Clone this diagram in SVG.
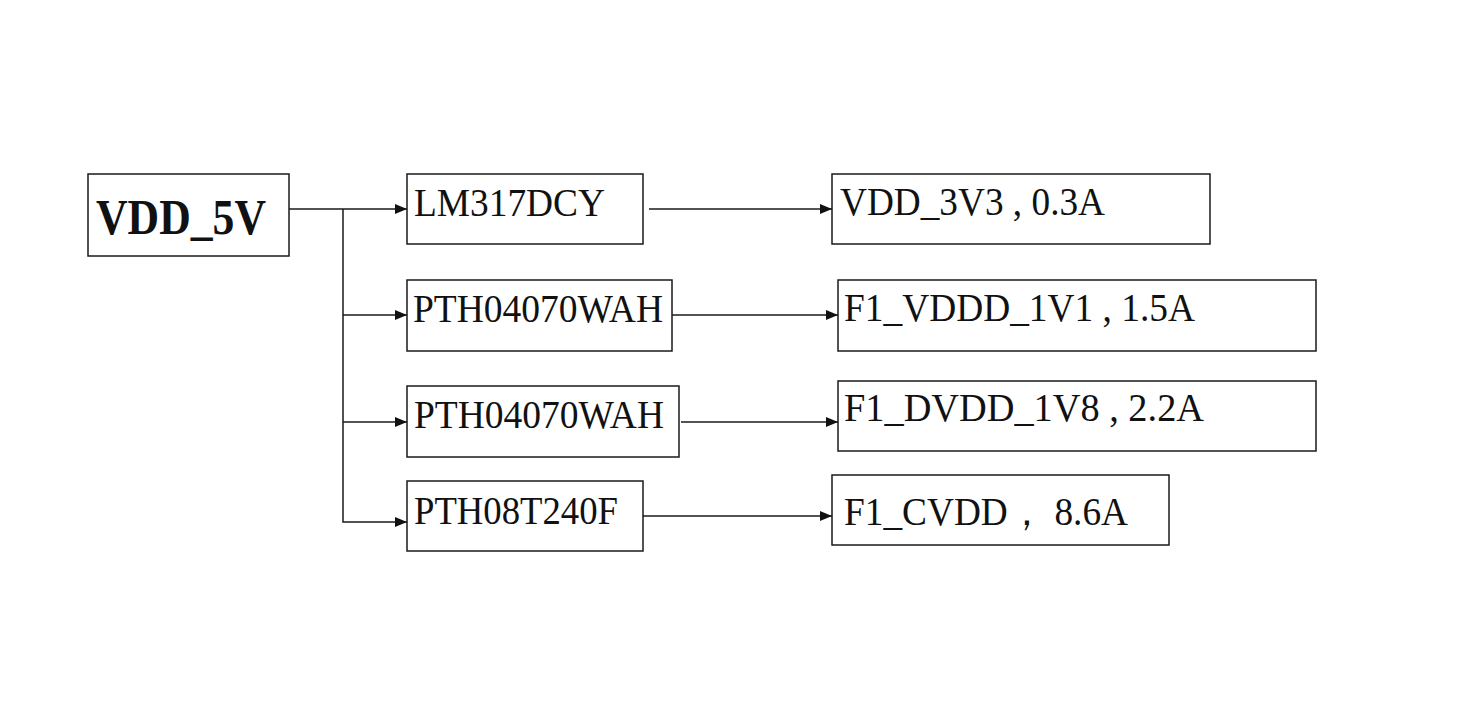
<svg xmlns="http://www.w3.org/2000/svg" width="1459" height="711" viewBox="0 0 1459 711">
<style>
.box{fill:#fff;stroke:#1a1a1a;stroke-width:1.5}
.t{font-family:"Liberation Serif","Times New Roman",serif;font-size:40px;fill:#111}
.b{font-family:"Liberation Serif","Times New Roman",serif;font-size:50px;font-weight:bold;fill:#111}
.c{fill:none;stroke:#1a1a1a;stroke-width:1.5}
</style>
<defs>
<marker id="ah" viewBox="0 0 12 10" refX="12" refY="5" markerWidth="12" markerHeight="10" markerUnits="userSpaceOnUse" orient="auto">
<path d="M0,0 L12,5 L0,10 Z" fill="#111"/>
</marker>
</defs>
<rect width="1459" height="711" fill="#fff"/>
<g id="connectors">
<path class="c" d="M289,209 H407" marker-end="url(#ah)"/>
<path class="c" d="M343,209 V522 H407" marker-end="url(#ah)"/>
<path class="c" d="M343,315 H407" marker-end="url(#ah)"/>
<path class="c" d="M343,422 H407" marker-end="url(#ah)"/>
<path class="c" d="M649,209 H832" marker-end="url(#ah)"/>
<path class="c" d="M672,315 H838" marker-end="url(#ah)"/>
<path class="c" d="M681,422 H838" marker-end="url(#ah)"/>
<path class="c" d="M643,516 H832" marker-end="url(#ah)"/>
</g>
<g id="vdd5v">
<rect class="box" x="88" y="174" width="201" height="82"/>
<text class="b" x="96" y="234" textLength="170" lengthAdjust="spacingAndGlyphs">VDD_5V</text>
</g>
<g id="lm317">
<rect class="box" x="407" y="174" width="236" height="70"/>
<text class="t" x="414" y="216" textLength="191" lengthAdjust="spacingAndGlyphs">LM317DCY</text>
</g>
<g id="pth1">
<rect class="box" x="407" y="280" width="265" height="71"/>
<text class="t" x="413" y="322" textLength="250" lengthAdjust="spacingAndGlyphs">PTH04070WAH</text>
</g>
<g id="pth2">
<rect class="box" x="407" y="386" width="272" height="71"/>
<text class="t" x="414" y="428" textLength="250" lengthAdjust="spacingAndGlyphs">PTH04070WAH</text>
</g>
<g id="pth3">
<rect class="box" x="407" y="481" width="236" height="70"/>
<text class="t" x="414" y="524" textLength="204" lengthAdjust="spacingAndGlyphs">PTH08T240F</text>
</g>
<g id="vdd3v3">
<rect class="box" x="832" y="174" width="378" height="70"/>
<text class="t" x="840" y="215" textLength="265" lengthAdjust="spacingAndGlyphs">VDD_3V3 , 0.3A</text>
</g>
<g id="vddd1v1">
<rect class="box" x="838" y="280" width="478" height="71"/>
<text class="t" x="844" y="321" textLength="351" lengthAdjust="spacingAndGlyphs">F1_VDDD_1V1 , 1.5A</text>
</g>
<g id="dvdd1v8">
<rect class="box" x="838" y="381" width="478" height="70"/>
<text class="t" x="844" y="421" textLength="360" lengthAdjust="spacingAndGlyphs">F1_DVDD_1V8 ,  2.2A</text>
</g>
<g id="cvdd">
<rect class="box" x="832" y="475" width="337" height="70"/>
<text class="t" x="844" y="525" textLength="284" lengthAdjust="spacingAndGlyphs">F1_CVDD，  8.6A</text>
</g>
</svg>
